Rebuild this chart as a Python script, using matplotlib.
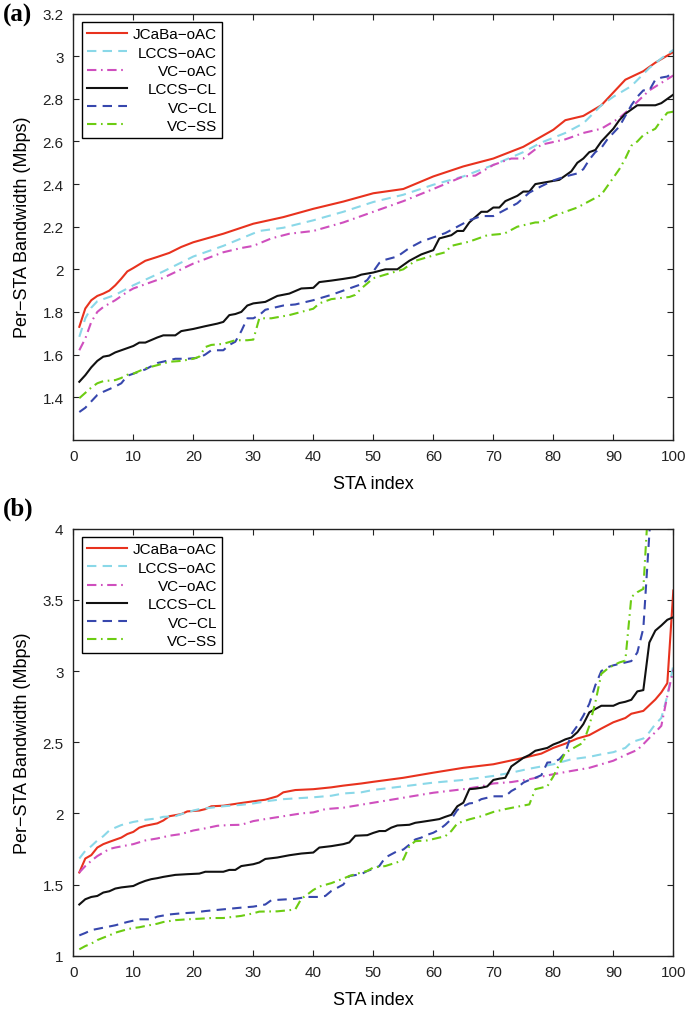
import matplotlib
matplotlib.use("Agg")
import matplotlib.pyplot as plt
from matplotlib.ticker import FuncFormatter

plt.rcParams['font.family'] = ['Liberation Sans', 'DejaVu Sans']

labels = ["JCaBa\u2212oAC", "LCCS\u2212oAC", "VC\u2212oAC", "LCCS\u2212CL", "VC\u2212CL", "VC\u2212SS"]

# ---- panel (a) ----
a_jcaba_x = [1, 2, 3, 4, 5, 6, 7, 8, 9, 10, 12, 14, 16, 18, 20, 25, 30, 35, 40, 45, 50, 55, 60, 65, 70,
             75, 80, 82, 85, 88, 90, 92, 95, 97, 100]
a_jcaba_y = [1.73, 1.816, 1.855, 1.875, 1.886, 1.90, 1.925, 1.956, 1.99, 2.006, 2.04, 2.058, 2.077, 2.105,
             2.127, 2.167, 2.214, 2.245, 2.284, 2.318, 2.357, 2.377, 2.436, 2.483, 2.52, 2.575, 2.655, 2.70,
             2.72, 2.77, 2.83, 2.89, 2.93, 2.97, 3.02]

a_lccs_oac_x = [1, 2, 3, 4, 5, 7, 10, 15, 20, 25, 28, 31, 35, 40, 45, 50, 55, 60, 65, 70, 75, 78, 82, 85,
                88, 90, 93, 96, 98, 100]
a_lccs_oac_y = [1.683, 1.77, 1.82, 1.85, 1.86, 1.88, 1.925, 1.99, 2.06, 2.11, 2.145, 2.18, 2.195, 2.23, 2.27,
                2.316, 2.35, 2.397, 2.436, 2.49, 2.55, 2.595, 2.64, 2.685, 2.77, 2.81, 2.86, 2.945, 2.99, 3.03]

a_vc_oac_x = [1, 2, 3, 4, 5, 7, 9, 10, 12, 15, 20, 25, 28, 30, 33, 36, 40, 45, 50, 55, 60, 65, 67, 70, 73,
              75, 78, 82, 85, 88, 91, 93, 96, 100]
a_vc_oac_y = [1.62, 1.675, 1.753, 1.80, 1.823, 1.855, 1.894, 1.91, 1.93, 1.96, 2.027, 2.08, 2.10, 2.11,
              2.145, 2.167, 2.18, 2.22, 2.27, 2.32, 2.377, 2.436, 2.44, 2.49, 2.52, 2.52, 2.585, 2.61, 2.64,
              2.66, 2.71, 2.76, 2.84, 2.91]

a_lccs_cl_x = [1, 2, 3, 4, 5, 6, 7, 9, 10, 11, 12, 14, 15, 17, 18, 20, 22, 24, 25, 26, 27, 28, 29, 30, 32,
               34, 36, 38, 40, 41, 43, 45, 47, 48, 50, 52, 54, 56, 58, 60, 61, 63, 64, 65, 66, 68, 69, 70,
               71, 72, 74, 75, 76, 77, 79, 81, 82, 83, 84, 85, 86, 87, 88, 89, 90, 91, 92, 93, 94, 97, 98,
               99, 100]
a_lccs_cl_y = [1.472, 1.503, 1.54, 1.57, 1.59, 1.595, 1.61, 1.63, 1.64, 1.656, 1.656, 1.68, 1.69, 1.69,
               1.71, 1.72, 1.733, 1.745, 1.753, 1.785, 1.79, 1.80, 1.83, 1.84, 1.847, 1.875, 1.886, 1.91,
               1.913, 1.94, 1.947, 1.955, 1.964, 1.975, 1.985, 2.0, 2.0, 2.04, 2.07, 2.09, 2.145, 2.16, 2.18,
               2.18, 2.22, 2.27, 2.27, 2.29, 2.29, 2.32, 2.345, 2.365, 2.365, 2.40, 2.41, 2.42, 2.44, 2.46,
               2.50, 2.52, 2.55, 2.56, 2.60, 2.63, 2.66, 2.70, 2.73, 2.75, 2.77, 2.77, 2.78, 2.80, 2.82]

a_vc_cl_x = [1, 2, 3, 4, 5, 7, 8, 9, 10, 12, 14, 17, 19, 21, 22, 23, 25, 26, 27, 28, 29, 30, 31, 32, 35,
             37, 40, 43, 46, 48, 49, 50, 51, 52, 54, 56, 58, 60, 62, 64, 66, 68, 70, 72, 74, 76, 78, 80,
             82, 84, 85, 86, 87, 88, 89, 90, 91, 92, 93, 94, 95, 96, 97, 98, 99, 100]
a_vc_cl_y = [1.33, 1.35, 1.38, 1.41, 1.425, 1.45, 1.465, 1.50, 1.51, 1.53, 1.56, 1.58, 1.58, 1.585, 1.60,
             1.62, 1.62, 1.645, 1.66, 1.71, 1.77, 1.77, 1.785, 1.81, 1.83, 1.835, 1.855, 1.88, 1.91, 1.93,
             1.95, 1.99, 2.03, 2.045, 2.06, 2.10, 2.13, 2.15, 2.17, 2.20, 2.23, 2.25, 2.25, 2.28, 2.31,
             2.36, 2.39, 2.417, 2.436, 2.45, 2.47, 2.515, 2.55, 2.57, 2.61, 2.64, 2.67, 2.72, 2.77, 2.81,
             2.84, 2.84, 2.89, 2.90, 2.905, 2.925]

a_vc_ss_x = [1, 2, 3, 4, 5, 7, 8, 9, 10, 12, 14, 16, 18, 20, 21, 22, 23, 25, 27, 29, 30, 31, 33, 36, 38,
             40, 41, 43, 46, 47, 48, 50, 52, 55, 57, 60, 62, 63, 66, 69, 71, 72, 74, 77, 78, 80, 82, 84,
             86, 88, 89, 90, 91, 92, 93, 94, 95, 97, 98, 99, 100]
a_vc_ss_y = [1.395, 1.42, 1.445, 1.465, 1.475, 1.48, 1.49, 1.505, 1.51, 1.535, 1.55, 1.566, 1.57, 1.58,
             1.59, 1.635, 1.645, 1.65, 1.667, 1.667, 1.67, 1.77, 1.77, 1.785, 1.80, 1.815, 1.84, 1.86, 1.87,
             1.88, 1.91, 1.958, 1.975, 2.0, 2.04, 2.065, 2.08, 2.11, 2.13, 2.16, 2.165, 2.17, 2.20, 2.22,
             2.22, 2.25, 2.27, 2.29, 2.32, 2.35, 2.39, 2.43, 2.47, 2.52, 2.58, 2.60, 2.63, 2.66, 2.70,
             2.735, 2.74]

# ---- panel (b) ----
b_jcaba_x = [1, 2, 3, 4, 5, 6, 7, 8, 9, 10, 11, 12, 14, 15, 16, 18, 19, 21, 22, 23, 25, 28, 30, 32, 34,
             35, 37, 40, 43, 45, 48, 50, 55, 60, 65, 70, 75, 78, 80, 82, 84, 86, 88, 90, 92, 93, 94, 95,
             97, 98, 99, 100]
b_jcaba_y = [1.585, 1.683, 1.707, 1.76, 1.784, 1.80, 1.815, 1.83, 1.855, 1.87, 1.90, 1.913, 1.93, 1.95,
             1.98, 1.995, 2.014, 2.02, 2.03, 2.05, 2.054, 2.073, 2.085, 2.096, 2.12, 2.148, 2.164, 2.17,
             2.183, 2.195, 2.21, 2.222, 2.25, 2.286, 2.32, 2.345, 2.39, 2.42, 2.46, 2.49, 2.526, 2.55,
             2.596, 2.64, 2.67, 2.70, 2.71, 2.72, 2.80, 2.85, 2.915, 3.566]

b_lccs_oac_x = [1, 2, 3, 4, 5, 6, 7, 8, 10, 12, 14, 15, 17, 18, 20, 21, 23, 25, 28, 30, 33, 35, 38, 40,
                43, 45, 48, 50, 55, 60, 65, 70, 73, 76, 80, 83, 86, 88, 90, 92, 93, 95, 96, 97, 98, 99, 100]
b_lccs_oac_y = [1.683, 1.737, 1.77, 1.81, 1.84, 1.88, 1.90, 1.918, 1.94, 1.955, 1.965, 1.976, 1.98, 1.995,
                2.02, 2.03, 2.04, 2.05, 2.06, 2.07, 2.09, 2.10, 2.108, 2.113, 2.124, 2.14, 2.148, 2.165,
                2.19, 2.216, 2.235, 2.263, 2.286, 2.314, 2.345, 2.38, 2.397, 2.415, 2.43, 2.46, 2.50,
                2.526, 2.57, 2.627, 2.67, 2.826, 3.04]

b_vc_oac_x = [1, 2, 3, 4, 5, 6, 7, 8, 10, 12, 14, 16, 18, 20, 22, 24, 26, 28, 30, 32, 35, 38, 40, 42, 45,
              47, 50, 55, 60, 65, 68, 70, 73, 76, 78, 80, 83, 86, 88, 90, 92, 94, 95, 96, 97, 98, 99, 100]
b_vc_oac_y = [1.585, 1.63, 1.667, 1.70, 1.725, 1.75, 1.76, 1.768, 1.784, 1.81, 1.824, 1.843, 1.855, 1.88,
              1.895, 1.913, 1.918, 1.92, 1.946, 1.96, 1.98, 2.0, 2.007, 2.03, 2.04, 2.054, 2.075, 2.11,
              2.145, 2.17, 2.19, 2.21, 2.22, 2.24, 2.258, 2.275, 2.298, 2.32, 2.345, 2.37, 2.41, 2.446,
              2.486, 2.53, 2.57, 2.615, 2.826, 3.01]

b_lccs_cl_x = [1, 2, 3, 4, 5, 6, 7, 8, 10, 11, 12, 13, 14, 15, 17, 19, 21, 22, 25, 26, 27, 28, 30, 31, 32,
               34, 36, 38, 40, 41, 43, 45, 46, 47, 49, 50, 51, 52, 53, 54, 56, 57, 58, 60, 61, 62, 63, 64,
               65, 66, 67, 68, 69, 70, 71, 72, 73, 74, 75, 76, 77, 78, 79, 80, 81, 82, 83, 84, 85, 86, 87,
               88, 90, 91, 92, 93, 94, 95, 96, 97, 98, 99, 100]
b_lccs_cl_y = [1.36, 1.397, 1.413, 1.42, 1.444, 1.453, 1.472, 1.48, 1.49, 1.51, 1.526, 1.538, 1.545,
               1.554, 1.568, 1.573, 1.577, 1.59, 1.59, 1.603, 1.603, 1.63, 1.643, 1.655, 1.68, 1.69, 1.706,
               1.718, 1.725, 1.76, 1.77, 1.784, 1.796, 1.843, 1.847, 1.863, 1.876, 1.876, 1.90, 1.915,
               1.92, 1.934, 1.94, 1.953, 1.96, 1.976, 1.99, 2.05, 2.075, 2.17, 2.174, 2.18, 2.19, 2.235,
               2.244, 2.25, 2.33, 2.36, 2.39, 2.41, 2.44, 2.45, 2.46, 2.484, 2.50, 2.52, 2.533, 2.57,
               2.627, 2.71, 2.733, 2.756, 2.756, 2.775, 2.784, 2.798, 2.857, 2.866, 3.2, 3.284, 3.32,
               3.36, 3.378]

b_vc_cl_x = [1, 2, 3, 5, 7, 9, 11, 13, 14, 16, 18, 20, 22, 25, 28, 30, 32, 33, 37, 39, 41, 42, 43, 45,
             46, 48, 49, 50, 51, 52, 54, 55, 56, 57, 58, 59, 60, 61, 62, 63, 64, 65, 66, 67, 68, 70, 72,
             73, 74, 75, 76, 77, 78, 79, 80, 81, 82, 83, 84, 85, 86, 87, 88, 89, 90, 91, 92, 93, 94, 95,
             96, 97]
b_vc_cl_y = [1.143, 1.16, 1.18, 1.197, 1.214, 1.237, 1.256, 1.256, 1.275, 1.29, 1.298, 1.303, 1.314,
             1.326, 1.338, 1.345, 1.36, 1.39, 1.40, 1.413, 1.413, 1.42, 1.455, 1.50, 1.56, 1.573, 1.596,
             1.61, 1.63, 1.69, 1.735, 1.746, 1.78, 1.817, 1.83, 1.85, 1.864, 1.887, 1.92, 1.96, 2.024,
             2.05, 2.07, 2.075, 2.10, 2.12, 2.12, 2.157, 2.18, 2.216, 2.235, 2.25, 2.268, 2.357, 2.36,
             2.38, 2.427, 2.556, 2.615, 2.686, 2.77, 2.90, 3.0, 3.026, 3.04, 3.05, 3.06, 3.07, 3.13, 3.30,
             3.96, 4.6]

b_vc_ss_x = [1, 2, 3, 4, 5, 6, 7, 8, 9, 10, 11, 12, 14, 15, 17, 19, 21, 23, 25, 27, 28, 30, 31, 34, 36,
             37, 38, 39, 40, 41, 43, 45, 46, 47, 49, 50, 52, 54, 55, 56, 57, 59, 61, 62, 63, 64, 66, 68,
             70, 72, 74, 76, 77, 78, 79, 80, 81, 82, 83, 84, 85, 86, 87, 88, 89, 90, 91, 92, 93, 94, 95,
             96]
b_vc_ss_y = [1.045, 1.068, 1.085, 1.11, 1.127, 1.143, 1.162, 1.174, 1.186, 1.195, 1.20, 1.209, 1.225,
             1.237, 1.25, 1.256, 1.26, 1.265, 1.265, 1.275, 1.28, 1.298, 1.31, 1.312, 1.32, 1.326, 1.40,
             1.43, 1.462, 1.486, 1.51, 1.542, 1.56, 1.573, 1.596, 1.62, 1.63, 1.657, 1.676, 1.77, 1.805,
             1.81, 1.83, 1.84, 1.876, 1.93, 1.958, 1.98, 2.01, 2.03, 2.047, 2.063, 2.17, 2.18, 2.19,
             2.26, 2.345, 2.427, 2.45, 2.474, 2.497, 2.615, 2.78, 2.98, 3.015, 3.04, 3.06, 3.073, 3.52,
             3.554, 3.577, 4.3]

colors = ["#e8321e", "#8ad8e8", "#cf4fbe", "#111111", "#3747ad", "#6ccc12"]
dashes = [None, (4.5, 3.0), (4.5, 2.2, 0.8, 2.2), None, (4.5, 3.0), (4.5, 2.2, 0.8, 2.2)]

panel_a = [(a_jcaba_x, a_jcaba_y), (a_lccs_oac_x, a_lccs_oac_y), (a_vc_oac_x, a_vc_oac_y),
           (a_lccs_cl_x, a_lccs_cl_y), (a_vc_cl_x, a_vc_cl_y), (a_vc_ss_x, a_vc_ss_y)]
panel_b = [(b_jcaba_x, b_jcaba_y), (b_lccs_oac_x, b_lccs_oac_y), (b_vc_oac_x, b_vc_oac_y),
           (b_lccs_cl_x, b_lccs_cl_y), (b_vc_cl_x, b_vc_cl_y), (b_vc_ss_x, b_vc_ss_y)]

fig = plt.figure(figsize=(6.87, 10.12), dpi=100)
ax_a = fig.add_axes([0.1067, 0.5645, 0.8734, 0.421])
ax_b = fig.add_axes([0.1067, 0.0546, 0.8734, 0.422])


def draw_panel(ax, series, ylim, yticks, yfmt):
    for (xs, ys), lab, c, d in zip(series, labels, colors, dashes):
        line, = ax.plot(xs, ys, color=c, lw=1.5, label=lab)
        if d is not None:
            line.set_dashes(d)
    ax.set_xlim(0, 100)
    ax.set_ylim(*ylim)
    ax.set_xticks(range(0, 101, 10))
    ax.set_yticks(yticks)
    ax.yaxis.set_major_formatter(yfmt)
    ax.tick_params(direction='in', length=4, width=0.8, top=True, right=True,
                   labelsize=11, colors='#222222', pad=7)
    for s in ax.spines.values():
        s.set_color('#222222')
        s.set_linewidth(1.0)
    ax.set_xlabel("STA index", fontsize=13, labelpad=8)
    ax.set_ylabel("Per\u2212STA Bandwidth (Mbps)", fontsize=13, labelpad=8)

    leg = ax.legend(loc='upper left', fontsize=11, frameon=True, fancybox=False,
                    edgecolor='black', framealpha=1, handlelength=2.6,
                    handletextpad=0.4, labelspacing=0.28, borderpad=0.35,
                    borderaxespad=0.55)
    leg.get_frame().set_linewidth(1.0)
    # push shorter legend labels right so all entries end at the same x
    fig.canvas.draw()
    renderer = fig.canvas.get_renderer()
    widths = [t.get_window_extent(renderer).width for t in leg.get_texts()]
    wmax = max(widths)
    for t, w in zip(leg.get_texts(), widths):
        t.set_position((wmax - w, 0))


g = FuncFormatter(lambda v, p: "%g" % round(v, 2))
draw_panel(ax_a, panel_a, (1.2, 3.2), [1.4, 1.6, 1.8, 2.0, 2.2, 2.4, 2.6, 2.8, 3.0, 3.2], g)
draw_panel(ax_b, panel_b, (1.0, 4.0), [1, 1.5, 2, 2.5, 3, 3.5, 4], g)

fig.text(0.004, 0.985, "(a)", fontsize=18, fontweight='bold', family='Liberation Serif', va='center')
fig.text(0.004, 0.497, "(b)", fontsize=18, fontweight='bold', family='Liberation Serif', va='center')

fig.savefig("out.png", dpi=100)
